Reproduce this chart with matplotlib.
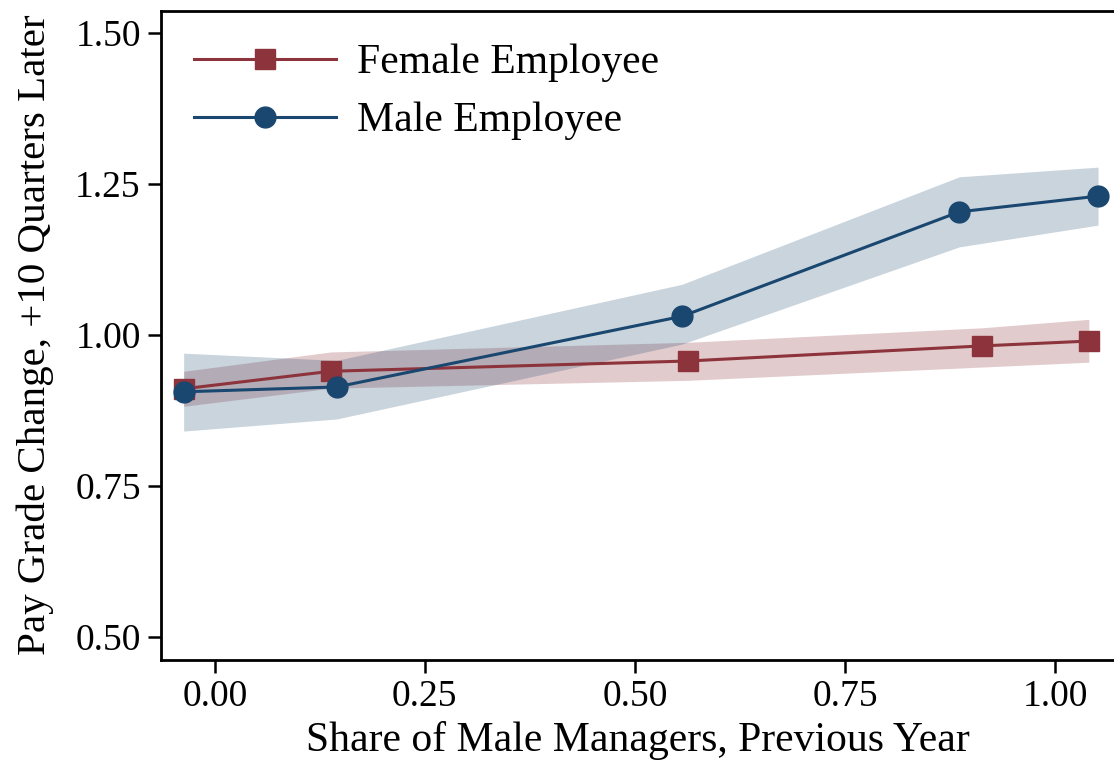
import matplotlib
matplotlib.use("Agg")
import matplotlib.pyplot as plt

# values
female_x = [-0.037, 0.138, 0.563, 0.913, 1.040]
female_y = [0.911, 0.940, 0.957, 0.982, 0.990]
female_lo = [0.882, 0.912, 0.925, 0.947, 0.955]
female_hi = [0.940, 0.972, 0.988, 1.012, 1.026]

male_x = [-0.037, 0.145, 0.556, 0.886, 1.051]
male_y = [0.906, 0.914, 1.031, 1.204, 1.230]
male_lo = [0.841, 0.861, 0.985, 1.146, 1.182]
male_hi = [0.970, 0.958, 1.084, 1.262, 1.278]

x_ticks = [0.0, 0.25, 0.5, 0.75, 1.0]
y_ticks = [0.5, 0.75, 1.0, 1.25, 1.5]

RED = "#8c333b"
BLUE = "#1a476f"

plt.rcParams["font.family"] = ["Liberation Serif", "DejaVu Serif"]

fig = plt.figure(figsize=(11.14, 7.63), dpi=100)
ax = fig.add_axes([0.1445, 0.1356, 0.8555, 0.8506])

ax.fill_between(female_x, female_lo, female_hi, color=RED, alpha=0.25, lw=0)
ax.fill_between(male_x, male_lo, male_hi, color=BLUE, alpha=0.23, lw=0)
ax.plot(female_x, female_y, color=RED, lw=2.2, marker="s", ms=14,
        label="Female Employee", zorder=3)
ax.plot(male_x, male_y, color=BLUE, lw=2.2, marker="o", ms=15,
        label="Male Employee", zorder=4)

ax.set_xlim(-0.064, 1.070)
ax.set_ylim(0.4627, 1.5373)
ax.set_xticks(x_ticks)
ax.set_xticklabels([f"{v:.2f}" for v in x_ticks])
ax.set_yticks(y_ticks)
ax.set_yticklabels([f"{v:.2f}" for v in y_ticks])

ax.spines["right"].set_visible(False)
for s in ("left", "top", "bottom"):
    ax.spines[s].set_linewidth(2)
ax.tick_params(direction="out", length=9.5, width=1.8, labelsize=27, pad=5)

ax.set_xlabel("Share of Male Managers, Previous Year", fontsize=30, labelpad=5)
ax.set_ylabel("Pay Grade Change, +10 Quarters Later", fontsize=29.5, labelpad=15)

ax.legend(loc="upper left", frameon=False, fontsize=30, handlelength=3.4,
          bbox_to_anchor=(0.0, 1.0), borderaxespad=0.45, borderpad=0.35,
          labelspacing=0.47, handletextpad=0.5)

fig.savefig("out.png", dpi=100)
